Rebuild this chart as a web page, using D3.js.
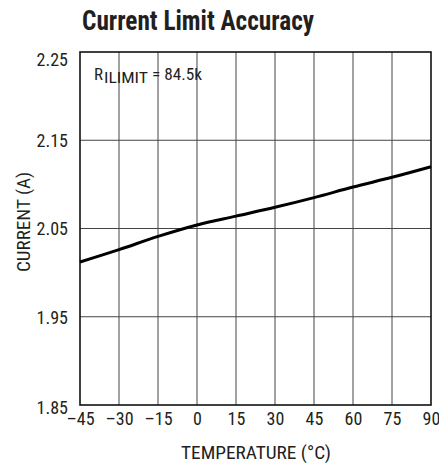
<!DOCTYPE html>
<html>
<head>
<meta charset="utf-8">
<script src="https://cdn.jsdelivr.net/npm/d3@7"></script>
<style>
  body { margin: 0; background: #fff; }
  svg text { font-family: "Roboto Condensed", "Liberation Sans Narrow", "DejaVu Sans Condensed", "Liberation Sans", sans-serif; fill: #231f20; }
</style>
</head>
<body>
<svg id="chart" width="439" height="463"></svg>
<script>
// temperature (°C) vs current limit (A)
const temps = [-45, -30, -15, 0, 15, 30, 45, 60, 75, 90];
const current = [2.012, 2.026, 2.041, 2.054, 2.064, 2.074, 2.085, 2.097, 2.108, 2.120];
const xTicks = [-45, -30, -15, 0, 15, 30, 45, 60, 75, 90];
const yTicks = [1.85, 1.95, 2.05, 2.15, 2.25];

const svg = d3.select("#chart");
const m = { left: 80, right: 431, top: 52, bottom: 405 };

const x = d3.scaleLinear().domain([-45, 90]).range([m.left, m.right]);
const y = d3.scaleLinear().domain([1.85, 2.25]).range([m.bottom, m.top]);

// title
svg.append("text")
    .attr("x", 82)
    .attr("y", 30)
    .attr("font-size", 28)
    .attr("font-weight", "bold")
    .attr("textLength", 232)
    .attr("lengthAdjust", "spacingAndGlyphs")
    .text("Current Limit Accuracy");

// grid
const grid = svg.append("g").attr("stroke", "#444").attr("stroke-width", 1);
grid.selectAll("line.v")
    .data(xTicks.slice(1, -1))
    .enter().append("line")
    .attr("x1", d => x(d)).attr("x2", d => x(d))
    .attr("y1", m.top).attr("y2", m.bottom);
grid.selectAll("line.h")
    .data(yTicks.slice(1, -1))
    .enter().append("line")
    .attr("x1", m.left).attr("x2", m.right)
    .attr("y1", d => y(d)).attr("y2", d => y(d));

// frame
svg.append("rect")
    .attr("x", m.left).attr("y", m.top)
    .attr("width", m.right - m.left).attr("height", m.bottom - m.top)
    .attr("fill", "none")
    .attr("stroke", "#111")
    .attr("stroke-width", 1.6);

// axes (labels only)
const xAxis = svg.append("g")
    .attr("transform", `translate(0,${m.bottom})`)
    .call(d3.axisBottom(x).tickValues(xTicks).tickSize(0).tickPadding(7)
        .tickFormat(d => d < 0 ? "\u2013" + Math.abs(d) : d));
const yAxis = svg.append("g")
    .attr("transform", `translate(${m.left},0)`)
    .call(d3.axisLeft(y).tickValues(yTicks).tickSize(0).tickPadding(12)
        .tickFormat(d3.format(".2f")));
[xAxis, yAxis].forEach(a => {
    a.select(".domain").remove();
    a.selectAll("text").attr("font-size", 18).attr("font-family", null).attr("fill", "#231f20");
});
// top label sits just inside the frame, bottom one a little low
yAxis.selectAll("text").attr("dy", d => d === 2.25 ? "0.75em" : d === 1.85 ? "0.45em" : "0.35em");

// axis titles
svg.append("text")
    .attr("x", 181)
    .attr("y", 459)
    .attr("font-size", 19)
    .attr("textLength", 150)
    .attr("lengthAdjust", "spacingAndGlyphs")
    .text("TEMPERATURE (\u00B0C)");

svg.append("text")
    .attr("transform", "translate(30,272) rotate(-90)")
    .attr("font-size", 19)
    .attr("textLength", 100)
    .attr("lengthAdjust", "spacingAndGlyphs")
    .text("CURRENT (A)");

// annotation: R with subscript ILIMIT
const ann = svg.append("g");
ann.append("text")
    .attr("x", 94).attr("y", 80)
    .attr("font-size", 16)
    .attr("textLength", 9).attr("lengthAdjust", "spacingAndGlyphs")
    .text("R");
ann.append("text")
    .attr("x", 104).attr("y", 83)
    .attr("font-size", 14)
    .attr("textLength", 44).attr("lengthAdjust", "spacingAndGlyphs")
    .text("ILIMIT");
ann.append("text")
    .attr("x", 152).attr("y", 80)
    .attr("font-size", 16)
    .attr("textLength", 50).attr("lengthAdjust", "spacingAndGlyphs")
    .text("= 84.5k");

// curve
const line = d3.line()
    .x((d, i) => x(temps[i]))
    .y(d => y(d))
    .curve(d3.curveMonotoneX);

svg.append("path")
    .datum(current)
    .attr("fill", "none")
    .attr("stroke", "#000")
    .attr("stroke-width", 3)
    .attr("d", line);
</script>
</body>
</html>
